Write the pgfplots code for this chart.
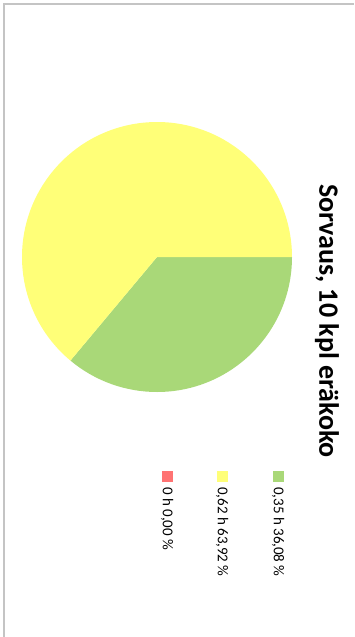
\documentclass[border=0pt]{standalone}
\usepackage{pgfplots}
\usepackage{pgfplotstable}
\pgfplotsset{compat=1.18}
\usepackage{fontspec}
\setmainfont{Carlito}
\definecolor{pieRed}{HTML}{FF7373}
\definecolor{pieYellow}{HTML}{FFFF78}
\definecolor{pieGreen}{HTML}{A9D878}
\definecolor{frameGray}{HTML}{C4C4C4}
% hours, percent, legend x position (rotated chart)
\pgfplotstableread{
label hours percent lx
green 0.35 36.08 278
yellow 0.62 63.92 222
red 0 0.00 167
}\piedata
\pgfplotstablegetelem{0}{percent}\of\piedata\let\pG\pgfplotsretval
\pgfplotstablegetelem{1}{percent}\of\piedata\let\pY\pgfplotsretval
\begin{document}
\begin{tikzpicture}
\useasboundingbox (0,0) rectangle (354pt,637pt);
\begin{axis}[
  at={(0,0)}, anchor=south west,
  scale only axis, width=354pt, height=637pt,
  xmin=0, xmax=354, ymin=0, ymax=637, y dir=reverse,
  hide axis, clip=false,
]
% frame (top and left edges)
\draw[frameGray, line width=1.6pt] (axis cs:4,637) -- (axis cs:4,4) -- (axis cs:354,4);
% pie (rotated 90 deg clockwise: first slice starts at 3 o'clock)
\pgfmathsetmacro{\aG}{-3.6*\pG}
\pgfmathsetmacro{\aY}{\aG-3.6*\pY}
\fill[pieGreen] (axis cs:157,257) -- ++(0:135pt) arc[start angle=0, end angle=\aG, radius=135pt] -- cycle;
\fill[pieYellow] (axis cs:157,257) -- ++(\aG:135pt) arc[start angle=\aG, end angle=\aY, radius=135pt] -- cycle;
% legend markers
\addplot[only marks, mark=square*, mark size=5pt, draw=pieGreen, fill=pieGreen] coordinates {(278,476)};
\addplot[only marks, mark=square*, mark size=5pt, draw=pieYellow, fill=pieYellow] coordinates {(222,476)};
\addplot[only marks, mark=square*, mark size=5pt, draw=pieRed, fill=pieRed] coordinates {(167,476)};
% legend labels
\node[rotate=-90, anchor=west, font=\fontsize{15}{17}\selectfont, inner sep=0pt] at (axis cs:278,487) {0,35 h 36,08 \%};
\node[rotate=-90, anchor=west, font=\fontsize{15}{17}\selectfont, inner sep=0pt] at (axis cs:222,487) {0,62 h 63,92 \%};
\node[rotate=-90, anchor=west, font=\fontsize{15}{17}\selectfont, inner sep=0pt] at (axis cs:167,487) {0 h 0,00 \%};
% title
\node[rotate=-90, font=\bfseries\fontsize{28}{32}\selectfont, inner sep=0pt] at (axis cs:327,321) {Sorvaus, 10 kpl eräkoko};
\end{axis}
\end{tikzpicture}
\end{document}
